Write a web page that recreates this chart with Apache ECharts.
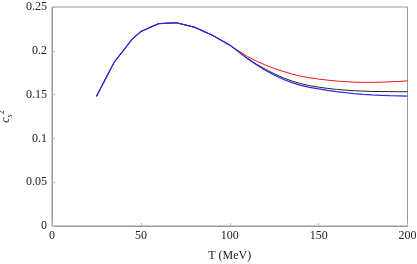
<!DOCTYPE html>
<html><head><meta charset="utf-8">
<script src="https://cdn.jsdelivr.net/npm/echarts@6/dist/echarts.min.js"></script>
<style>html,body{margin:0;padding:0;background:#fff}#c{width:417px;height:264px}</style>
</head><body><div id="c"></div>
<script>
var T = [25,35,45,50,60,70,80,90,100,105,110,115,120,125,130,135,140,145,150,155,160,165,170,175,180,185,190,195,200];
var common = [0.148,0.187,0.213,0.222,0.231,0.232,0.227,0.218,0.2065];
var redTail   = [0.1998,0.1935,0.1882,0.1838,0.1798,0.1765,0.1735,0.1710,0.1692,0.1677,0.1665,0.1655,0.1648,0.1642,0.1640,0.1640,0.1642,0.1646,0.1650,0.1657,0.1663];
var blackTail = [0.1990,0.1915,0.1848,0.1790,0.1738,0.1692,0.1655,0.1625,0.1602,0.1585,0.1571,0.1560,0.1551,0.1544,0.1540,0.1536,0.1535,0.1534,0.1533,0.1533,0.1533];
var blueTail  = [0.1988,0.1910,0.1840,0.1777,0.1723,0.1675,0.1637,0.1605,0.1583,0.1565,0.1549,0.1535,0.1522,0.1512,0.1503,0.1496,0.1492,0.1488,0.1485,0.1482,0.1480];

function pairs(tail){ var v = common.concat(tail); return T.map(function(t,i){return [t,v[i]];}); }
var font = '"Liberation Serif", "DejaVu Serif", serif';
var chart = echarts.init(document.getElementById('c'));
chart.setOption({
  animation:false,
  textStyle:{fontFamily:font},
  grid:{left:52,right:9.5,top:7,bottom:38,show:true,borderColor:'#999',borderWidth:1,outerBoundsMode:'none',containLabel:false},
  xAxis:{type:'value',min:0,max:200,interval:50,
    name:'T (MeV)',nameLocation:'middle',nameGap:24,
    nameTextStyle:{fontFamily:font,fontSize:12,color:'#222'},
    axisLine:{lineStyle:{color:'#999'}},
    axisTick:{inside:true,length:3,lineStyle:{color:'#bbb'}},
    axisLabel:{fontFamily:font,fontSize:12,color:'#222',margin:4,formatter:function(v){return String(v);}},
    splitLine:{show:false}},
  yAxis:{type:'value',min:0,max:0.25,interval:0.05,
    name:'{c|c}{s|s}{p|2}',nameLocation:'middle',nameGap:38,nameRotate:90,
    nameTextStyle:{fontFamily:font,fontSize:12,color:'#222',
      rich:{c:{fontFamily:font,fontSize:12,fontStyle:'italic',color:'#222'},
            s:{fontFamily:font,fontSize:8,fontStyle:'italic',color:'#222',verticalAlign:'bottom',padding:[5,0,0,0]},
            p:{fontFamily:font,fontSize:8,color:'#222',verticalAlign:'top',padding:[0,0,8,0]}}},
    axisLine:{lineStyle:{color:'#999'}},
    axisTick:{inside:true,length:3,lineStyle:{color:'#bbb'}},
    axisLabel:{fontFamily:font,fontSize:12,color:'#222',margin:5,formatter:function(v){return String(+v.toFixed(2));}},
    splitLine:{show:false}},
  series:[
    {type:'line',data:pairs(redTail),showSymbol:false,lineStyle:{color:'#ff1010',width:1}},
    {type:'line',data:pairs(blackTail),showSymbol:false,lineStyle:{color:'#222',width:1}},
    {type:'line',data:pairs(blueTail),showSymbol:false,lineStyle:{color:'#2a2af0',width:1.2}}
  ]
});
</script></body></html>
